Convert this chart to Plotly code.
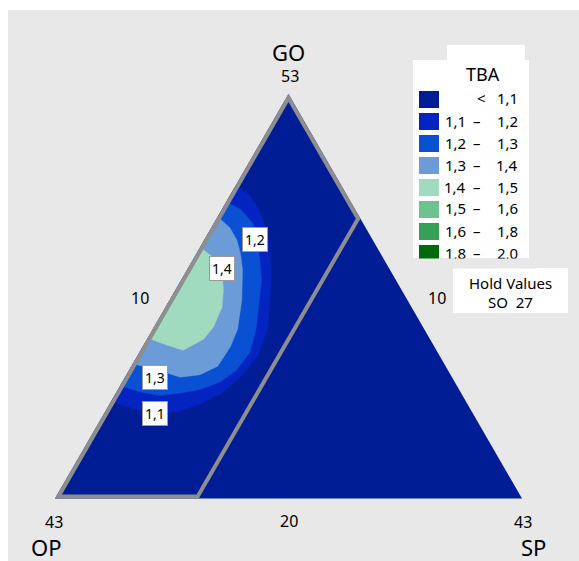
import plotly.graph_objects as go

# Page and triangle geometry (pixels)
W, H = 579, 561
TRI_X0, TRI_X1 = 55.0, 522.0
TRI_W = TRI_X1 - TRI_X0
TRI_H = TRI_W * 3 ** 0.5 / 2
TRI_BASE = 498.5

# Mixture amounts: GO + OP + SP = 73 with SO held at 27
TOTAL = 73
GO_MIN, OP_MIN, SP_MIN = 20, 10, 10
SPAN = TOTAL - GO_MIN - OP_MIN - SP_MIN

# TBA classes
class_low = ["", "1,1", "1,2", "1,3", "1,4", "1,5", "1,6", "1,8"]
class_high = ["1,1", "1,2", "1,3", "1,4", "1,5", "1,6", "1,8", "2,0"]
class_colors = ["#001d96", "#0424c2", "#0a50d2", "#6c9cd8",
                "#a0dbbf", "#6dc28d", "#35a056", "#006a0a"]

# Constrained design region (SP <= 20)
region_go = [53, 20, 20, 43, 53]
region_op = [10, 43, 33, 10, 10]
region_sp = [10, 10, 20, 20, 10]

# Contour TBA = 1,1
c11_go = [45.6, 44.8, 43.8, 42.3, 40.7, 38.7, 36.2, 33.8, 31.7, 30.1, 28.6, 27.7, 27.1, 26.9, 27.3, 27.7, 28.0]
c11_op = [17.4, 16.9, 16.8, 17.0, 17.5, 18.4, 19.7, 21.1, 22.8, 24.7, 26.9, 28.9, 30.8, 32.5, 33.7, 34.6, 35.0]
c11_sp = [10.0, 11.3, 12.4, 13.7, 14.8, 15.9, 17.1, 18.1, 18.5, 18.2, 17.5, 16.4, 15.1, 13.6, 12.0, 10.7, 10.0]

# Contour TBA = 1,2
c12_go = [44.2, 43.6, 42.5, 41.4, 39.7, 37.8, 35.8, 33.8, 31.9, 30.5, 29.5, 28.9, 28.6, 28.4, 28.7, 29.2]
c12_op = [18.8, 18.1, 17.8, 18.0, 18.7, 19.5, 20.7, 21.9, 23.3, 24.9, 26.6, 28.3, 29.8, 31.4, 32.6, 33.8]
c12_sp = [10.0, 11.3, 12.7, 13.6, 14.6, 15.7, 16.5, 17.3, 17.8, 17.6, 16.9, 15.8, 14.6, 13.2, 11.7, 10.0]

# Contour TBA = 1,3
c13_go = [43.0, 42.1, 41.1, 40.0, 38.7, 36.2, 33.8, 32.4, 30.8, 30.1, 29.9, 30.4, 31.0]
c13_op = [20.0, 19.6, 19.6, 19.9, 20.4, 21.7, 23.2, 24.4, 26.1, 27.7, 29.2, 30.3, 32.0]
c13_sp = [10.0, 11.3, 12.3, 13.1, 13.9, 15.1, 16.0, 16.2, 16.1, 15.2, 13.9, 12.3, 10.0]

# Contour TBA = 1,4
c14_go = [40.5, 39.7, 38.4, 37.0, 35.6, 34.0, 33.0, 32.1, 32.6, 33.1]
c14_op = [22.5, 22.0, 22.0, 22.6, 23.4, 24.8, 26.0, 27.9, 29.0, 29.9]
c14_sp = [10.0, 11.3, 12.6, 13.4, 14.0, 14.2, 14.0, 13.0, 11.4, 10.0]

# Contour line labels
label_text = ["1,1", "1,2", "1,3", "1,4"]
label_go = [26.9, 41.1, 29.9, 38.8]
label_op = [32.5, 18.3, 31.0, 21.8]
label_sp = [13.6, 13.6, 12.1, 12.4]

FONT = "Noto Sans"
OUTLINE = "#8e8e8e"
PANEL = "#e8e8e8"


def px(x, y):
    """Pixel position -> paper coordinates."""
    return x / W, 1 - y / H


def tern_px(g, s):
    wa = (g - GO_MIN) / SPAN
    wc = (s - SP_MIN) / SPAN
    return TRI_X0 + TRI_W * (wa / 2 + wc), TRI_BASE - TRI_H * wa


fig = go.Figure()

contours = [
    (c11_go, c11_op, c11_sp, class_colors[1]),
    (c12_go, c12_op, c12_sp, class_colors[2]),
    (c13_go, c13_op, c13_sp, class_colors[3]),
    (c14_go, c14_op, c14_sp, class_colors[4]),
]
for g, o, s, col in contours:
    fig.add_trace(go.Scatterternary(
        a=g, b=o, c=s, mode="lines", fill="toself", fillcolor=col,
        line=dict(color=col, width=0.5), hoverinfo="skip", showlegend=False))

# region outline: the parts lying on the triangle edges are half clipped,
# so they get a wider stroke than the interior SP = 20 side
edge_idx = [3, 0, 1, 2]
inner_idx = [2, 3]
fig.add_trace(go.Scatterternary(
    a=[region_go[i] for i in edge_idx], b=[region_op[i] for i in edge_idx],
    c=[region_sp[i] for i in edge_idx], mode="lines",
    line=dict(color=OUTLINE, width=8), hoverinfo="skip", showlegend=False))
fig.add_trace(go.Scatterternary(
    a=[region_go[i] for i in inner_idx], b=[region_op[i] for i in inner_idx],
    c=[region_sp[i] for i in inner_idx], mode="lines",
    line=dict(color=OUTLINE, width=4), hoverinfo="skip", showlegend=False))

axis_style = dict(showline=False, showgrid=False, showticklabels=False,
                  ticks="", title=dict(text=""))

LEGEND_BOTTOM = 258

shapes = [
    # panel background
    dict(type="rect", xref="paper", yref="paper", x0=8 / W, x1=1, y0=0,
         y1=1 - 10 / H, fillcolor=PANEL, line=dict(width=0), layer="below"),
    # legend boxes
    dict(type="rect", xref="paper", yref="paper", x0=447 / W, x1=525 / W,
         y0=1 - 62 / H, y1=1 - 45 / H, fillcolor="white", line=dict(width=0), layer="below"),
    dict(type="rect", xref="paper", yref="paper", x0=413 / W, x1=529 / W,
         y0=1 - LEGEND_BOTTOM / H, y1=1 - 60 / H, fillcolor="white", line=dict(width=0), layer="below"),
    dict(type="rect", xref="paper", yref="paper", x0=453 / W, x1=568 / W,
         y0=1 - 313 / H, y1=1 - 268 / H, fillcolor="white", line=dict(width=0), layer="below"),
]

annotations = []


def text(x, y, t, size, xanchor="center", color="black"):
    xp, yp = px(x, y)
    annotations.append(dict(x=xp, y=yp, xref="paper", yref="paper", text=t,
                            showarrow=False, xanchor=xanchor, yanchor="middle",
                            font=dict(family=FONT, size=size, color=color)))


# vertex and edge labels
text(288, 52, "GO", 22)
text(290, 76, "53", 16)
text(140, 298, "10", 16)
text(437, 298, "10", 16)
text(54, 522, "43", 16)
text(289, 521, "20", 16)
text(523, 522, "43", 16)
text(46, 547, "OP", 22)
text(533, 547, "SP", 22)

# contour labels
for t, g, s in zip(label_text, label_go, label_sp):
    x, y = tern_px(g, s)
    xp, yp = px(x, y)
    annotations.append(dict(x=xp, y=yp, xref="paper", yref="paper", text=t,
                            showarrow=False, xanchor="center", yanchor="middle",
                            bgcolor="white", bordercolor="#9a9a9a", borderwidth=1,
                            borderpad=2, font=dict(family=FONT, size=14, color="black")))

# legend
text(483, 74, "TBA", 18)
row_top, row_step, sw_h = 91.0, 22.0, 17.0
for i, (lo, hi, col) in enumerate(zip(class_low, class_high, class_colors)):
    top = row_top + i * row_step
    shapes.append(dict(type="rect", xref="paper", yref="paper",
                       x0=419 / W, x1=439 / W, y0=1 - (top + sw_h) / H, y1=1 - top / H,
                       fillcolor=col, line=dict(width=0), layer="below"))
    yc = top + sw_h / 2 - 1
    if lo:
        text(468, yc, lo, 15, xanchor="right")
        text(477, yc, "–", 15)
    else:
        text(481, yc, "<", 15)
    text(520, yc, hi, 15, xanchor="right")

# legend box cuts off below its last row
xp, yp = px(410, LEGEND_BOTTOM)
annotations.append(dict(x=xp, y=yp, xref="paper", yref="paper", text=" ",
                        showarrow=False, xanchor="left", yanchor="top",
                        width=125, height=9, bgcolor=PANEL, borderpad=0,
                        font=dict(size=8)))

# hold values
text(510, 283, "Hold Values", 15)
text(510, 302, "SO  27", 15)

fig.update_layout(
    width=W, height=H, margin=dict(l=0, r=0, t=0, b=0),
    paper_bgcolor="white", plot_bgcolor="white",
    ternary=dict(
        sum=TOTAL,
        domain=dict(x=[TRI_X0 / W, TRI_X1 / W],
                    y=[1 - TRI_BASE / H, 1 - (TRI_BASE - TRI_H) / H]),
        bgcolor=class_colors[0],
        aaxis=dict(min=GO_MIN, **axis_style),
        baxis=dict(min=OP_MIN, **axis_style),
        caxis=dict(min=SP_MIN, **axis_style),
    ),
    shapes=shapes,
    annotations=annotations,
    showlegend=False,
)

fig.write_html("out.html")
